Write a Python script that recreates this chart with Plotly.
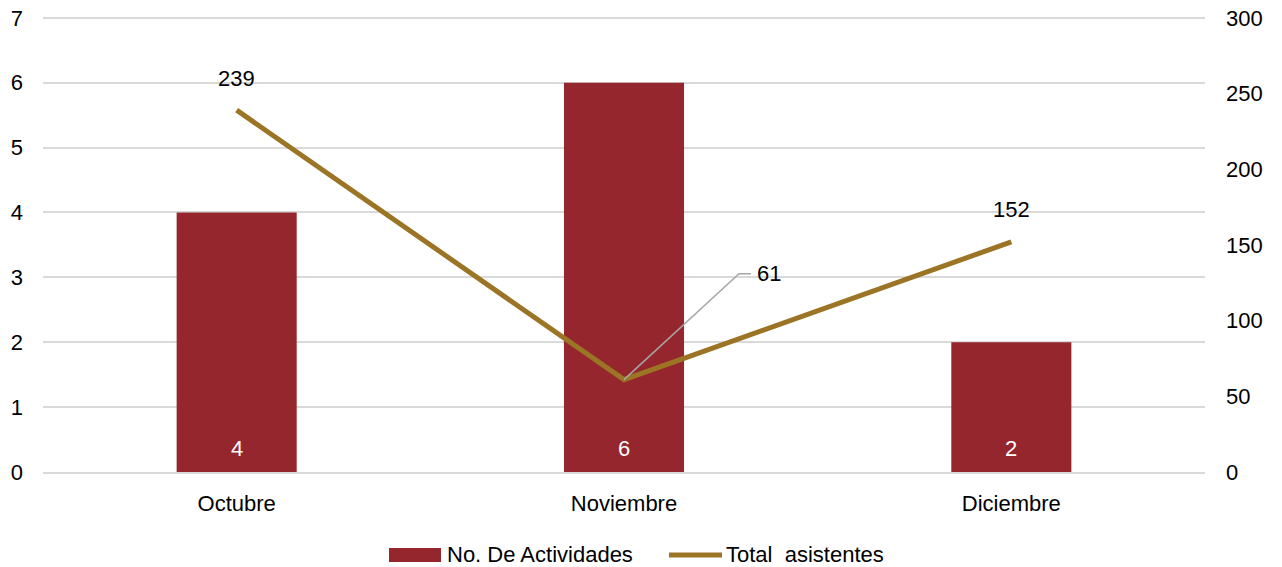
import plotly.graph_objects as go

months = ["Octubre", "Noviembre", "Diciembre"]
actividades = [4, 6, 2]
asistentes = [239, 61, 152]
left_ticks = [0, 1, 2, 3, 4, 5, 6, 7]
right_ticks = [0, 50, 100, 150, 200, 250, 300]
series_names = ["No. De Actividades", "Total  asistentes"]

BAR = "#96262D"
LINE = "#9B7525"
FONT = "Liberation Sans, Arial, sans-serif"
FS = 22

# body margin is removed (post_script below), so the figure sits at (0, 0)
OFF = 0
W, H = 1282, 567
YMAX, Y2MAX = 7, 300
PAD = 1.004  # tiny headroom so the top gridline at 7 / 300 is drawn
# target: value 0 at viewport y=472, value 7 at y=18
unit = (472 - 18) / YMAX
top_px = 18 - (YMAX * PAD - YMAX) * unit
L, T = 43 - OFF, top_px - OFF
R, B = W - (1205 - OFF), H - (472 - OFF)
PW, PH = W - L - R, H - T - B


def px(x):
    """viewport x pixel -> paper coordinate"""
    return (x - OFF - L) / PW


def py(y):
    """viewport y pixel -> paper coordinate"""
    return (H - B - (y - OFF)) / PH


fig = go.Figure()
fig.add_trace(go.Bar(
    x=months, y=actividades, name=series_names[0],
    marker=dict(color=BAR, line=dict(width=0)), width=0.31,
    showlegend=False, hoverinfo="x+y",
))
fig.add_trace(go.Scatter(
    x=months, y=asistentes, name=series_names[1], yaxis="y2",
    mode="lines", line=dict(color=LINE, width=5), showlegend=False,
))

# bar value labels (white, near the bar base)
for m, v in zip(months, actividades):
    fig.add_annotation(x=m, y=0, text=str(v), showarrow=False, yanchor="middle",
                       yshift=24, font=dict(size=FS, color="white", family=FONT))

# data labels for the line
for i, (m, v) in enumerate(zip(months, asistentes)):
    if i == 1:
        continue
    fig.add_annotation(x=m, y=v, yref="y2", text=str(v), showarrow=False,
                       yshift=32, font=dict(size=FS, color="#000", family=FONT))

# leader-line label for the middle point
fig.add_shape(type="path", xref="x", yref="y2", xsizemode="pixel", ysizemode="pixel",
              xanchor=1, yanchor=asistentes[1],
              path="M0,0 L115,106 L127,106", line=dict(color="#a6a6a6", width=1.5))
fig.add_annotation(x=months[1], y=asistentes[1], yref="y2", text=str(asistentes[1]),
                   showarrow=False, xanchor="left", xshift=131, yshift=106,
                   font=dict(size=FS, color="#000", family=FONT))

# custom legend (wide swatches like the reference)
fig.add_shape(type="rect", xref="paper", yref="paper",
              x0=px(389), x1=px(441), y0=py(562), y1=py(548),
              fillcolor=BAR, line=dict(width=0))
fig.add_shape(type="line", xref="paper", yref="paper",
              x0=px(669), x1=px(722), y0=py(555), y1=py(555),
              line=dict(color=LINE, width=5))
fig.add_annotation(xref="paper", yref="paper", x=px(445), y=py(554),
                   text=series_names[0], showarrow=False, xanchor="left",
                   yanchor="middle", font=dict(size=FS, color="#000", family=FONT))
fig.add_annotation(xref="paper", yref="paper", x=px(724), y=py(554),
                   text=series_names[1].replace("  ", "&nbsp; "), showarrow=False,
                   xanchor="left", yanchor="middle",
                   font=dict(size=FS, color="#000", family=FONT))

fig.update_layout(
    width=W, height=H,
    margin=dict(l=L, r=R, t=T, b=B, autoexpand=False),
    plot_bgcolor="white", paper_bgcolor="white",
    font=dict(family=FONT, size=FS, color="#000"),
    showlegend=False,
    xaxis=dict(type="category", showgrid=False, showline=True, linecolor="#d9d9d9",
               linewidth=1.5, ticks="", ticklabelstandoff=11, tickfont=dict(size=FS),
               automargin=False),
    yaxis=dict(range=[0, YMAX * PAD], tickvals=left_ticks, showgrid=True,
               gridcolor="#d9d9d9", gridwidth=1.5, zeroline=False, showline=False,
               ticks="", ticklabelstandoff=19, tickfont=dict(size=FS), automargin=False,
               ticklabeloverflow="allow"),
    yaxis2=dict(range=[0, Y2MAX * PAD], tickvals=right_ticks, overlaying="y", side="right",
                showgrid=False, zeroline=False, showline=False, ticks="",
                ticklabelstandoff=20, tickfont=dict(size=FS), automargin=False,
                ticklabeloverflow="allow"),
)

fig.write_html("out.html", config={"displayModeBar": False},
               post_script="document.body.style.margin='0';")
